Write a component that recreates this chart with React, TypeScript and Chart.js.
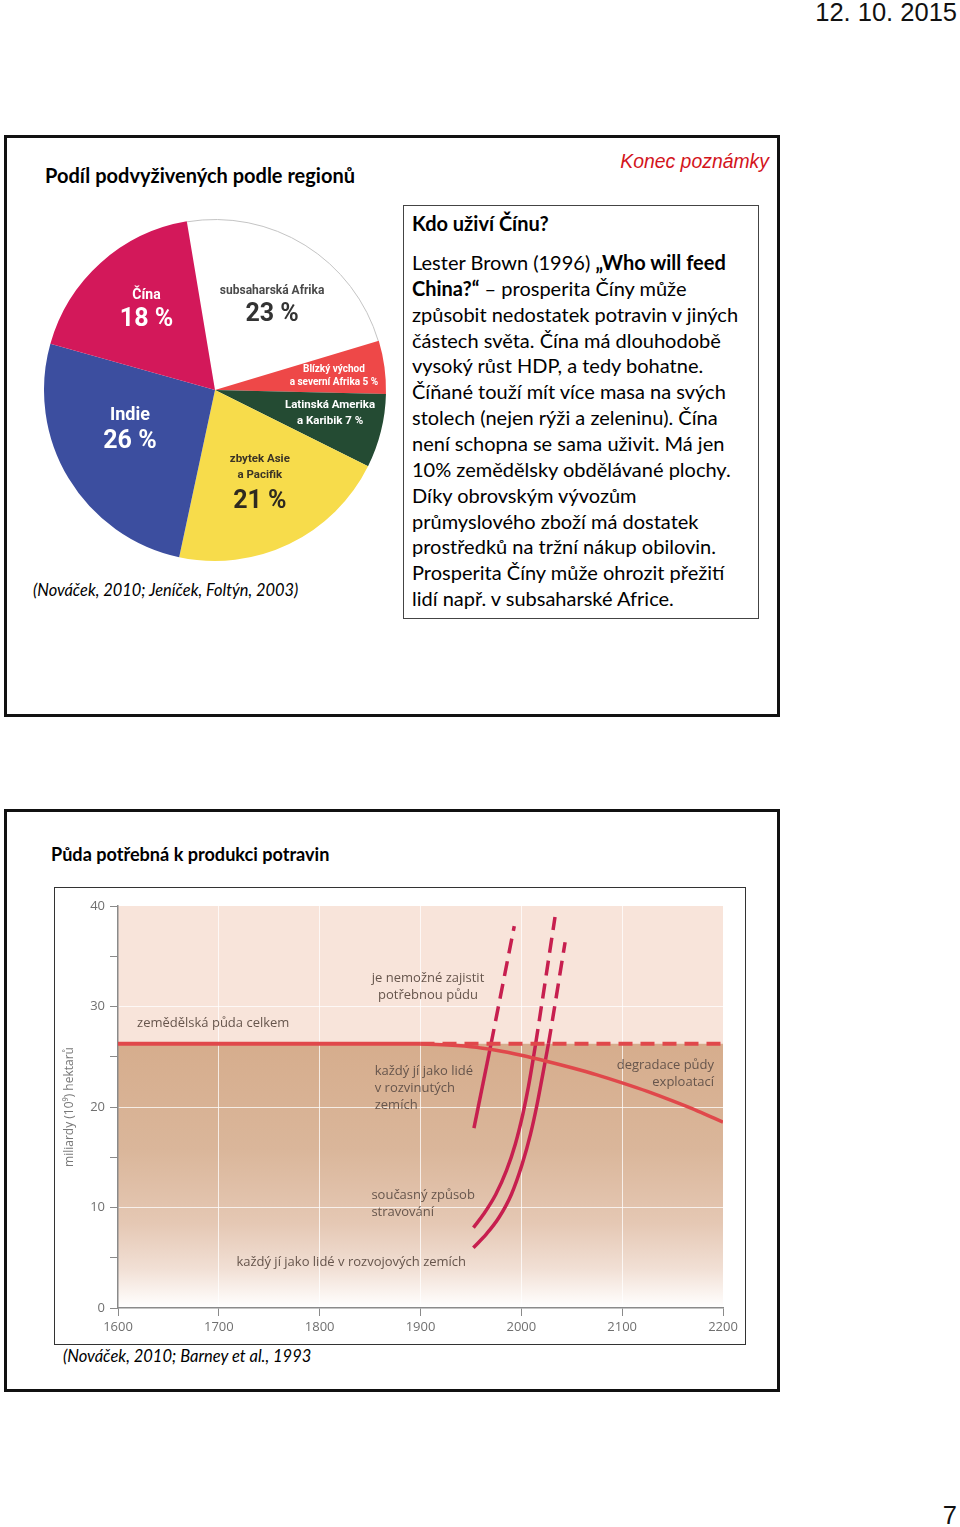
import React, { useEffect, useRef } from "react";
import { Chart, registerables } from "chart.js";

Chart.register(...registerables);

// ---------------- Pie chart data ----------------
const regionNames: string[][] = [
  ["subsaharská Afrika"],
  ["Blízký východ", "a severní Afrika"],
  ["Latinská Amerika", "a Karibik"],
  ["zbytek Asie", "a Pacifik"],
  ["Indie"],
  ["Čína"],
];
const regionShares = [23, 5, 7, 21, 26, 18];
const regionColors = ["#ffffff", "#ee4848", "#244b33", "#f7dc4b", "#3c4e9f", "#d3185a"];

// ---------------- Line chart data ----------------
const totalLandYears = [1600, 1900, 2200];
const totalLandValues = [26.3, 26.3, 26.3];
const degradationYears = [1900, 1950, 1975, 2000, 2025, 2050, 2075, 2100, 2125, 2150, 2175, 2200];
const degradationValues = [26.3, 26.0, 25.65, 25.15, 24.55, 23.9, 23.2, 22.4, 21.55, 20.6, 19.6, 18.5];
const developedYears = [1953, 1970, 1993];
const developedValues = [17.9, 26.3, 38.0];
const currentYears = [1952.5, 1962.3, 1974.6, 1985.3, 1994, 2001.5, 2007, 2012.6, 2014.2, 2033.4];
const currentValues = [8.0, 9.3, 11.3, 13.7, 16.3, 19.3, 22.0, 25.3, 26.3, 38.9];
const developingYears = [1952.4, 1965.7, 1977.8, 1990.1, 2000.8, 2009.1, 2015.7, 2020.8, 2025.8, 2026.9, 2043.4];
const developingValues = [6.0, 7.4, 9.0, 11.3, 14.3, 17.3, 20.3, 23.0, 25.7, 26.3, 36.4];
const landLimit = 26.3;
const xMin = 1600;
const xMax = 2200;
const yMin = 0;
const yMax = 40;

const noteLines: string[][] = [
  ["je nemožné zajistit", "potřebnou půdu"],
  ["zemědělská půda celkem"],
  ["každý jí jako lidé", "v rozvinutých", "zemích"],
  ["degradace půdy", "exploatací"],
  ["současný způsob", "stravování"],
  ["každý jí jako lidé v rozvojových zemích"],
];
const noteYears = [1907.5, 1618.9, 1854.6, 2191.1, 1851.3, 1717.4];
const noteValues = [32.84, 28.28, 23.53, 24.13, 11.24, 4.59];
const noteAligns: CanvasTextAlign[] = ["center", "left", "left", "right", "left", "left"];

const BODY = "Lato, 'Open Sans', sans-serif";
const ARIAL = "'Liberation Sans', Arial, sans-serif";
const CHART_FONT = "'Open Sans', sans-serif";
const PIE_FONT = "Roboto, 'Open Sans', sans-serif";

const pts = (xs: number[], ys: number[]) => xs.map((x, i) => ({ x, y: ys[i] }));

// label layout inside pie slices
const pieLabelStyles = [
  { r: 0.61, da: 1.3, colors: ["#4a4a4a", "#333333"], sizes: [12, 25], dys: [-12, 12], inline: false },
  { r: 0.7, da: 1.2, colors: ["#ffffff", "#ffffff"], sizes: [10, 10], dys: [-6.5, 6.5], inline: true },
  { r: 0.686, da: -2.6, colors: ["#ffffff", "#ffffff"], sizes: [11.5, 11.5], dys: [-8, 8], inline: true },
  { r: 0.59, da: -0.7, colors: ["#3b3426", "#3b3426", "#2e2a20"], sizes: [11.5, 11.5, 25], dys: [-21.5, -5.5, 21.5], inline: false },
  { r: 0.547, da: 6.5, colors: ["#ffffff", "#ffffff"], sizes: [18, 25], dys: [-13, 13], inline: false },
  { r: 0.627, da: 2.2, colors: ["#ffffff", "#ffffff"], sizes: [14, 25], dys: [-12.5, 12.5], inline: false },
];

const pieLabelPlugin = {
  id: "pieLabels",
  afterDatasetsDraw(chart: any) {
    const { ctx } = chart;
    const meta = chart.getDatasetMeta(0);
    ctx.save();
    ctx.textAlign = "center";
    ctx.textBaseline = "middle";
    meta.data.forEach((arc: any, i: number) => {
      const { x, y, startAngle, endAngle, outerRadius } = arc.getProps(
        ["x", "y", "startAngle", "endAngle", "outerRadius"],
        true
      );
      if (regionColors[i] === "#ffffff") {
        ctx.strokeStyle = "#c4c4c4";
        ctx.lineWidth = 1;
        ctx.beginPath();
        ctx.arc(x, y, outerRadius - 0.5, startAngle, endAngle);
        ctx.stroke();
      }
      const st = pieLabelStyles[i];
      const mid = (startAngle + endAngle) / 2 + (st.da * Math.PI) / 180;
      const cx = x + Math.cos(mid) * outerRadius * st.r;
      const cy = y + Math.sin(mid) * outerRadius * st.r;
      const share = `${regionShares[i]} %`;
      const lines = st.inline
        ? regionNames[i].map((n, k) => (k === regionNames[i].length - 1 ? `${n} ${share}` : n))
        : [...regionNames[i], share];
      lines.forEach((t, k) => {
        ctx.fillStyle = st.colors[k];
        ctx.font = `bold ${st.sizes[k]}px ${PIE_FONT}`;
        ctx.fillText(t, cx, cy + st.dys[k]);
      });
    });
    ctx.restore();
  },
};

const bgPlugin = {
  id: "landBg",
  beforeDraw(chart: any) {
    const { ctx, chartArea: a, scales } = chart;
    const yl = scales.y.getPixelForValue(landLimit);
    ctx.save();
    ctx.fillStyle = "#f8e4da";
    ctx.fillRect(a.left, a.top, a.right - a.left, yl - a.top);
    const g = ctx.createLinearGradient(0, yl, 0, a.bottom);
    g.addColorStop(0, "#d6ad8d");
    g.addColorStop(0.4, "#dab69a");
    g.addColorStop(0.68, "#e5c8b4");
    g.addColorStop(0.85, "#f1dfd4");
    g.addColorStop(0.96, "#fcf7f4");
    g.addColorStop(1, "#ffffff");
    ctx.fillStyle = g;
    ctx.fillRect(a.left, yl, a.right - a.left, a.bottom - yl);
    ctx.restore();
  },
};

const notePlugin = {
  id: "notes",
  afterDatasetsDraw(chart: any) {
    const { ctx, scales } = chart;
    ctx.save();
    ctx.font = "13px 'Open Sans', sans-serif";
    ctx.fillStyle = "#66554c";
    ctx.textBaseline = "middle";
    noteLines.forEach((lines, i) => {
      ctx.textAlign = noteAligns[i];
      const px = scales.x.getPixelForValue(noteYears[i]);
      const py = scales.y.getPixelForValue(noteValues[i]);
      lines.forEach((t, k) => ctx.fillText(t, px, py + k * 16.9));
    });
    ctx.restore();
  },
};

function PieChart() {
  const ref = useRef<HTMLCanvasElement>(null);
  useEffect(() => {
    const chart = new Chart(ref.current as HTMLCanvasElement, {
      type: "pie",
      data: {
        labels: regionNames.map((n) => n.join(" ")),
        datasets: [
          {
            data: regionShares,
            backgroundColor: regionColors,
            borderWidth: 0,
            hoverOffset: 0,
          },
        ],
      },
      options: {
        responsive: false,
        animation: false,
        rotation: -9.5,
        radius: 171,
        events: [],
        plugins: { legend: { display: false }, tooltip: { enabled: false } },
      } as any,
      plugins: [pieLabelPlugin],
    });
    return () => chart.destroy();
  }, []);
  return (
    <canvas
      ref={ref}
      width={360}
      height={360}
      style={{ position: "absolute", left: 35, top: 210, width: 360, height: 360 }}
    />
  );
}

function LandChart() {
  const ref = useRef<HTMLCanvasElement>(null);
  useEffect(() => {
    const coral = "#e0484b";
    const crimson = "#c71f4f";
    const dashAbove = (ctx: any) => (ctx.p0.parsed.y >= landLimit - 1e-6 ? [15, 8] : undefined);
    const chart = new Chart(ref.current as HTMLCanvasElement, {
      type: "line",
      data: {
        datasets: [
          {
            data: pts(totalLandYears, totalLandValues),
            borderColor: coral,
            borderWidth: 4,
            segment: { borderDash: (ctx: any) => (ctx.p0.parsed.x >= 1900 ? [14, 8] : undefined) },
          },
          {
            data: pts(degradationYears, degradationValues),
            borderColor: coral,
            borderWidth: 3.5,
            cubicInterpolationMode: "monotone",
          },
          {
            data: pts(developedYears, developedValues),
            borderColor: crimson,
            borderWidth: 3.5,
            segment: { borderDash: dashAbove },
          },
          {
            data: pts(currentYears, currentValues),
            borderColor: crimson,
            borderWidth: 3.5,
            cubicInterpolationMode: "monotone",
            segment: { borderDash: dashAbove },
          },
          {
            data: pts(developingYears, developingValues),
            borderColor: crimson,
            borderWidth: 3.5,
            cubicInterpolationMode: "monotone",
            segment: { borderDash: dashAbove },
          },
        ],
      },
      options: {
        responsive: false,
        animation: false,
        events: [],
        elements: { point: { radius: 0 }, line: { fill: false } },
        layout: { padding: { top: 18, right: 21, left: 0, bottom: 0 } },
        plugins: { legend: { display: false }, tooltip: { enabled: false } },
        scales: {
          x: {
            type: "linear",
            min: xMin,
            max: xMax,
            ticks: {
              stepSize: 100,
              color: "#707070",
              font: { family: CHART_FONT, size: 13 },
              padding: 3,
              callback: (v: any) => String(v),
            },
            grid: {
              color: (c: any) =>
                c.tick && c.tick.value > xMin && c.tick.value < xMax ? "rgba(255,255,255,0.75)" : "rgba(0,0,0,0)",
              lineWidth: 1,
              tickColor: "#8a8a8a",
              tickLength: 8,
            },
            border: { color: "#8a8a8a", width: 1.5 },
            afterFit: (s: any) => {
              s.height = 36;
            },
          },
          y: {
            type: "linear",
            min: yMin,
            max: yMax,
            ticks: {
              stepSize: 5,
              color: "#707070",
              font: { family: CHART_FONT, size: 13 },
              padding: 5,
              callback: (v: any) => (Number(v) % 10 === 0 ? String(v) : ""),
            },
            grid: {
              color: (c: any) =>
                c.tick && c.tick.value % 10 === 0 && c.tick.value > yMin && c.tick.value < yMax
                  ? "rgba(255,255,255,0.75)"
                  : "rgba(0,0,0,0)",
              lineWidth: 1,
              tickColor: "#8a8a8a",
              tickLength: 8,
            },
            border: { color: "#8a8a8a", width: 1.5 },
            title: {
              display: true,
              text: "miliardy (10⁹) hektarů",
              color: "#787878",
              font: { family: CHART_FONT, size: 12 },
              padding: { top: 7, bottom: 0 },
            },
            afterFit: (s: any) => {
              s.width = 63;
            },
          },
        },
      } as any,
      plugins: [bgPlugin, notePlugin],
    });
    return () => chart.destroy();
  }, []);
  return (
    <canvas
      ref={ref}
      width={689}
      height={456}
      style={{ position: "absolute", left: 55, top: 888, width: 689, height: 456 }}
    />
  );
}

type TP = {
  x?: number;
  rx?: number;
  cy: number;
  size: number;
  bold?: boolean;
  italic?: boolean;
  color?: string;
  family?: string;
  children: React.ReactNode;
};

function Txt({ x, rx, cy, size, bold, italic, color = "#000", family = BODY, children }: TP) {
  const lh = Math.round(size * 1.3);
  const style: React.CSSProperties = {
    position: "absolute",
    top: cy - lh / 2,
    lineHeight: lh + "px",
    fontSize: size,
    fontFamily: family,
    fontWeight: bold ? 700 : 400,
    fontStyle: italic ? "italic" : "normal",
    color,
    whiteSpace: "nowrap",
  };
  if (rx !== undefined) style.right = 960 - rx;
  else style.left = x;
  return <div style={style}>{children}</div>;
}

const paragraph: React.ReactNode[] = [
  <>Lester Brown (1996) <b>„Who will feed</b></>,
  <><b>China?“</b> – prosperita Číny může</>,
  <>způsobit nedostatek potravin v jiných</>,
  <>částech světa. Čína má dlouhodobě</>,
  <>vysoký růst HDP, a tedy bohatne.</>,
  <>Číňané touží mít více masa na svých</>,
  <>stolech (nejen rýži a zeleninu). Čína</>,
  <>není schopna se sama uživit. Má jen</>,
  <>10% zemědělsky obdělávané plochy.</>,
  <>Díky obrovským vývozům</>,
  <>průmyslového zboží má dostatek</>,
  <>prostředků na tržní nákup obilovin.</>,
  <>Prosperita Číny může ohrozit přežití</>,
  <>lidí např. v subsaharské Africe.</>,
];

export default function App() {
  return (
    <div
      style={{
        position: "absolute",
        left: 0,
        top: 0,
        width: 960,
        height: 1527,
        background: "#fff",
        overflow: "hidden",
      }}
    >
      <Txt rx={957} cy={12} size={25.5} family={ARIAL} color="#111">
        12. 10. 2015
      </Txt>

      {/* slide 1 */}
      <div
        style={{
          position: "absolute",
          left: 4,
          top: 135,
          width: 776,
          height: 582,
          border: "3px solid #111",
          boxSizing: "border-box",
        }}
      />
      <Txt x={45} cy={175} size={20} bold>
        Podíl podvyživených podle regionů
      </Txt>
      <Txt rx={769} cy={161} size={19.4} italic family={ARIAL} color="#d3141c">
        Konec poznámky
      </Txt>
      <PieChart />
      <Txt x={33} cy={589} size={16.4} italic>
        (Nováček, 2010; Jeníček, Foltýn, 2003)
      </Txt>
      <div
        style={{
          position: "absolute",
          left: 403,
          top: 205,
          width: 356,
          height: 414,
          border: "1px solid #444",
          boxSizing: "border-box",
        }}
      />
      <Txt x={412} cy={223} size={20} bold>
        Kdo uživí Čínu?
      </Txt>
      {paragraph.map((p, i) => (
        <Txt key={i} x={412} cy={262 + i * 25.85} size={20}>
          {p}
        </Txt>
      ))}

      {/* slide 2 */}
      <div
        style={{
          position: "absolute",
          left: 4,
          top: 809,
          width: 776,
          height: 583,
          border: "3px solid #111",
          boxSizing: "border-box",
        }}
      />
      <Txt x={51} cy={854} size={18.1} bold>
        Půda potřebná k produkci potravin
      </Txt>
      <div
        style={{
          position: "absolute",
          left: 54,
          top: 887,
          width: 692,
          height: 458,
          border: "1px solid #333",
          boxSizing: "border-box",
        }}
      />
      <LandChart />
      <Txt x={63} cy={1356} size={16.5} italic>
        (Nováček, 2010; Barney et al., 1993
      </Txt>

      <Txt rx={957} cy={1515} size={25.5} family={ARIAL} color="#111">
        7
      </Txt>
    </div>
  );
}
